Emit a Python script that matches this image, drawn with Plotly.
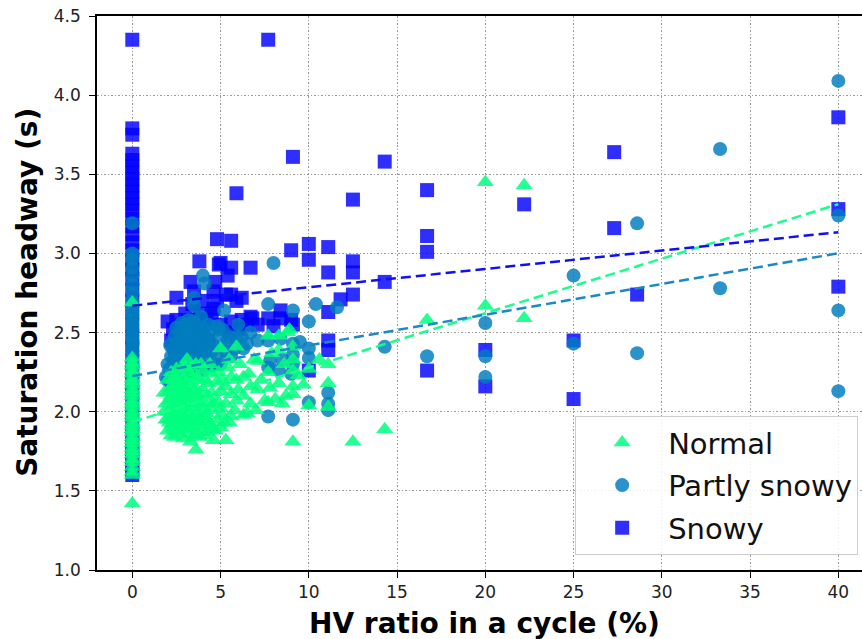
import numpy as np
import plotly.graph_objects as go

categories = ["Normal", "Partly snowy", "Snowy"]
colors = ["rgba(0,255,127,0.85)", "rgba(0,125,190,0.83)", "rgba(0,0,255,0.82)"]
line_colors = ["#1aff8c", "#1a88c9", "#1010f0"]
symbols = ["triangle-up", "circle", "square"]

# Saturation headways (s) in cycles with no heavy vehicles (HV ratio = 0 %)
normal_zero_y = [1.42, 1.60, 1.62, 1.65, 1.68, 1.70, 1.73, 1.75, 1.77, 1.80, 1.82,
                 1.84, 1.87, 1.89, 1.91, 1.93, 1.96, 1.98, 2.00, 2.03, 2.05, 2.07,
                 2.10, 2.12, 2.14, 2.17, 2.19, 2.21, 2.24, 2.26, 2.29, 2.31, 2.34, 2.69]
partly_zero_y = [1.72, 1.76, 1.81, 1.85, 1.90, 1.94, 1.98, 2.03, 2.07, 2.12, 2.16,
                 2.20, 2.24, 2.27, 2.31, 2.35, 2.38, 2.42, 2.45, 2.48, 2.52, 2.55,
                 2.58, 2.61, 2.64, 2.67, 2.70, 2.75, 2.80, 2.86, 2.91, 2.96, 3.00, 3.19]
snowy_zero_y = [1.60, 1.63, 1.67, 1.71, 1.75, 1.80, 1.86, 1.92, 1.98, 2.05, 2.12,
                2.18, 2.25, 2.32, 2.40, 2.47, 2.55, 2.63, 2.70, 2.77, 2.84, 2.90,
                2.96, 3.02, 3.07, 3.12, 3.17, 3.22, 3.27, 3.31, 3.35, 3.39, 3.43,
                3.47, 3.51, 3.55, 3.59, 3.63, 3.75, 3.79, 4.35]

# (HV ratio %, saturation headway s) for cycles with heavy vehicles
normal_points = [
    (1.8, 2.00), (1.8, 2.12), (1.9, 1.95), (1.9, 2.05), (2.0, 1.88), (2.0, 2.00),
    (2.0, 2.12), (2.0, 2.20), (2.05, 1.95), (2.1, 1.93), (2.1, 2.07), (2.15, 2.15),
    (2.2, 1.85), (2.2, 1.98), (2.2, 2.10), (2.2, 2.25), (2.25, 1.92), (2.3, 1.90),
    (2.3, 2.03), (2.3, 2.15), (2.35, 2.20), (2.4, 1.84), (2.4, 1.96), (2.4, 2.08),
    (2.4, 2.22), (2.45, 2.02), (2.5, 1.88), (2.5, 2.01), (2.5, 2.13), (2.5, 2.27),
    (2.55, 1.95), (2.55, 2.20), (2.6, 1.93), (2.6, 2.05), (2.6, 2.18), (2.65, 2.10),
    (2.7, 1.86), (2.7, 1.99), (2.7, 2.11), (2.7, 2.24), (2.75, 1.93), (2.8, 1.91),
    (2.8, 2.04), (2.8, 2.16), (2.85, 2.28), (2.9, 1.83), (2.9, 1.97), (2.9, 2.09),
    (2.9, 2.21), (2.95, 2.15), (3.0, 1.89), (3.0, 2.02), (3.0, 2.14), (3.0, 2.28),
    (3.05, 1.96), (3.1, 1.94), (3.1, 2.06), (3.1, 2.19), (3.1, 2.33), (3.15, 2.10),
    (3.2, 1.86), (3.2, 2.00), (3.2, 2.12), (3.2, 2.25), (3.25, 1.90), (3.3, 1.81),
    (3.3, 1.95), (3.3, 2.08), (3.3, 2.17), (3.35, 2.28), (3.4, 1.90), (3.4, 2.03),
    (3.4, 2.22), (3.45, 1.97), (3.45, 2.12), (3.55, 1.85), (3.6, 1.76), (3.6, 1.93),
    (3.6, 2.05), (3.6, 2.15), (3.6, 2.30), (3.65, 2.22), (3.7, 1.88), (3.7, 2.00),
    (3.7, 2.11), (3.75, 1.94), (3.8, 1.84), (3.8, 1.97), (3.8, 2.09), (3.8, 2.20),
    (3.85, 2.05), (3.9, 2.30), (4.0, 1.91), (4.0, 2.03), (4.0, 2.14), (4.0, 2.26),
    (4.1, 1.85), (4.1, 1.97), (4.1, 2.20), (4.2, 1.87), (4.2, 1.99), (4.2, 2.10),
    (4.3, 1.94), (4.3, 2.06), (4.3, 2.18), (4.4, 1.92), (4.4, 2.30), (4.5, 1.89),
    (4.5, 2.01), (4.5, 2.12), (4.5, 2.24), (4.6, 1.82), (4.6, 2.05), (4.7, 1.88),
    (4.8, 1.95), (4.8, 2.07), (4.8, 2.19), (4.9, 2.25), (5.0, 1.90), (5.0, 2.02),
    (5.0, 2.13), (5.0, 2.40), (5.1, 1.98), (5.1, 2.20), (5.2, 1.93), (5.3, 1.82),
    (5.3, 2.05), (5.3, 2.16), (5.4, 2.28), (5.5, 1.93), (5.5, 2.33), (5.6, 1.97),
    (5.6, 2.11), (5.6, 2.22), (5.8, 2.01), (5.9, 2.07), (5.9, 2.20), (5.9, 2.41),
    (6.0, 2.14), (6.1, 2.30), (6.3, 1.98), (6.3, 2.10), (6.3, 2.22), (6.5, 1.99),
    (6.6, 2.24), (6.7, 2.05), (6.7, 2.16), (6.9, 2.33), (7.0, 2.01), (7.1, 2.32),
    (7.1, 2.14), (7.3, 2.20), (7.5, 2.07), (7.7, 2.06), (7.7, 2.25), (7.7, 2.48),
    (7.8, 2.15), (7.9, 2.37), (8.1, 2.08), (8.3, 2.48), (8.3, 2.39), (8.3, 2.18),
    (8.5, 2.05), (8.6, 2.30), (8.7, 2.10), (8.8, 2.50), (8.9, 2.52), (9.1, 1.81),
    (9.1, 2.11), (9.1, 2.16), (9.1, 2.26), (9.1, 2.33), (9.1, 2.41), (9.4, 2.23),
    (9.7, 2.17), (10.0, 2.04), (10.0, 2.27), (10.6, 2.33), (11.1, 2.03),
    (11.1, 2.18), (11.1, 2.30), (12.5, 1.81), (14.3, 1.89), (16.7, 2.58),
    (20.0, 2.67), (20.0, 3.45), (22.2, 2.59), (22.2, 3.43),
]
partly_points = [
    (1.9, 2.22), (2.0, 2.30), (2.0, 2.20), (2.1, 2.27), (2.15, 2.42), (2.2, 2.35),
    (2.2, 2.18), (2.3, 2.25), (2.3, 2.40), (2.35, 2.33), (2.4, 2.31), (2.4, 2.47),
    (2.45, 2.20), (2.5, 2.22), (2.5, 2.36), (2.5, 2.53), (2.6, 2.28), (2.6, 2.44),
    (2.65, 2.36), (2.7, 2.19), (2.7, 2.33), (2.7, 2.50), (2.75, 2.44), (2.8, 2.26),
    (2.8, 2.40), (2.8, 2.56), (2.85, 2.32), (2.9, 2.31), (2.9, 2.46), (2.95, 2.55),
    (3.0, 2.22), (3.0, 2.37), (3.0, 2.52), (3.05, 2.29), (3.1, 2.29), (3.1, 2.43),
    (3.15, 2.49), (3.2, 2.35), (3.2, 2.58), (3.25, 2.40), (3.3, 2.25), (3.3, 2.52),
    (3.4, 2.32), (3.4, 2.46), (3.45, 2.57), (3.5, 2.67), (3.5, 2.72), (3.55, 2.30),
    (3.6, 2.38), (3.6, 2.55), (3.65, 2.47), (3.7, 2.28), (3.7, 2.44), (3.8, 2.34),
    (3.8, 2.50), (3.85, 2.42), (3.9, 2.60), (4.0, 2.86), (4.0, 2.40), (4.0, 2.26),
    (4.05, 2.52), (4.1, 2.81), (4.15, 2.38), (4.2, 2.47), (4.2, 2.33), (4.3, 2.55),
    (4.35, 2.45), (4.5, 2.38), (4.5, 2.29), (4.5, 2.50), (4.6, 2.42), (4.7, 2.30),
    (4.8, 2.54), (4.8, 2.36), (4.9, 2.52), (5.0, 2.44), (5.0, 2.30), (5.1, 2.52),
    (5.2, 2.64), (5.3, 2.38), (5.4, 2.45), (5.6, 2.47), (5.6, 2.35), (5.8, 2.40),
    (5.9, 2.47), (6.0, 2.55), (6.2, 2.47), (6.3, 2.40), (6.5, 2.43), (6.7, 2.50),
    (7.1, 2.45), (7.7, 2.68), (7.7, 2.45), (7.7, 2.28), (7.7, 1.97), (7.8, 2.32),
    (8.0, 2.94), (8.3, 2.26), (8.4, 2.46), (8.5, 2.33), (9.0, 2.24), (9.1, 2.64),
    (9.1, 2.43), (9.1, 2.36), (9.1, 2.30), (9.1, 1.95), (9.5, 2.44), (10.0, 2.57),
    (10.0, 2.40), (10.0, 2.34), (10.0, 2.06), (10.4, 2.68), (11.1, 2.12),
    (11.1, 2.05), (11.1, 2.01), (11.6, 2.66), (14.3, 2.41), (16.7, 2.35),
    (20.0, 2.56), (20.0, 2.35), (20.0, 2.22), (25.0, 2.86), (25.0, 2.43),
    (28.6, 3.19), (28.6, 2.37), (33.3, 3.66), (33.3, 2.78), (40.0, 4.09),
    (40.0, 3.24), (40.0, 2.64), (40.0, 2.13),
]
snowy_points = [
    (2.0, 2.57), (2.2, 2.45), (2.3, 2.52), (2.4, 2.40), (2.5, 2.72), (2.5, 2.58),
    (2.6, 2.48), (2.7, 2.36), (2.8, 2.55), (2.9, 2.44), (3.0, 2.62), (3.1, 2.50),
    (3.2, 2.40), (3.3, 2.82), (3.3, 2.58), (3.4, 2.68), (3.5, 2.76), (3.5, 2.47),
    (3.6, 2.55), (3.7, 2.38), (3.8, 2.95), (3.8, 2.62), (3.9, 2.50), (4.0, 2.70),
    (4.2, 2.58), (4.3, 2.45), (4.5, 2.62), (4.6, 2.76), (4.6, 2.65), (4.7, 2.82),
    (4.8, 3.09), (4.8, 2.70), (4.9, 2.93), (5.0, 2.94), (5.0, 2.55), (5.3, 2.74),
    (5.4, 2.86), (5.5, 2.50), (5.6, 3.08), (5.6, 2.91), (5.6, 2.74), (5.6, 2.57),
    (5.9, 3.38), (5.9, 2.70), (6.0, 2.52), (6.2, 2.72), (6.2, 2.58), (6.5, 2.55),
    (6.7, 2.91), (6.7, 2.60), (6.8, 2.59), (7.1, 2.55), (7.7, 4.35), (7.7, 2.59),
    (8.0, 2.54), (8.4, 2.64), (8.4, 2.59), (9.0, 3.02), (9.0, 2.58), (9.1, 3.61),
    (9.1, 2.55), (10.0, 3.06), (10.0, 2.96), (10.0, 2.26), (11.1, 3.04),
    (11.1, 2.88), (11.1, 2.63), (11.1, 2.45), (11.1, 2.39), (11.8, 2.71),
    (12.5, 3.34), (12.5, 2.95), (12.5, 2.88), (12.5, 2.74), (14.3, 3.58),
    (14.3, 2.82), (16.7, 3.40), (16.7, 3.11), (16.7, 3.01), (16.7, 2.26),
    (20.0, 2.39), (20.0, 2.16), (22.2, 3.31), (25.0, 2.45), (25.0, 2.08),
    (27.3, 3.64), (27.3, 3.16), (28.6, 2.74), (40.0, 3.86), (40.0, 3.28),
    (40.0, 2.79),
]

# Linear fits of headway against HV ratio (intercept s, slope s per %)
trend_intercept = [1.935, 2.225, 2.670]
trend_slope = [0.0344, 0.0194, 0.0116]
trend_x = np.array([0.0, 40.0])

x_ticks = [0, 5, 10, 15, 20, 25, 30, 35, 40]
y_ticks = [1.0, 1.5, 2.0, 2.5, 3.0, 3.5, 4.0, 4.5]

zero_y = [normal_zero_y, partly_zero_y, snowy_zero_y]
points = [normal_points, partly_points, snowy_points]
sizes = [15, 14, 14]

fig = go.Figure()

# draw snowy first so that normal cycles sit on top
for i in [2, 1, 0]:
    px, py = zip(*points[i])
    xs = [0.0] * len(zero_y[i]) + list(px)
    ys = list(zero_y[i]) + list(py)
    fig.add_trace(go.Scatter(
        x=xs, y=ys, mode="markers", name=categories[i],
        legendrank=i + 1, legendgroup=categories[i],
        marker=dict(symbol=symbols[i], size=sizes[i], color=colors[i],
                    line=dict(width=0)),
    ))

for i in range(3):
    fig.add_trace(go.Scatter(
        x=trend_x, y=trend_intercept[i] + trend_slope[i] * trend_x,
        mode="lines", showlegend=False, hoverinfo="skip",
        line=dict(color=line_colors[i], width=2.5, dash="10px,5px"),
    ))

font_family = "DejaVu Sans"
axis_common = dict(
    showline=True, linecolor="black", linewidth=1.5,
    ticks="outside", ticklen=6, tickwidth=1.2, tickcolor="black",
    tickfont=dict(family=font_family, size=17, color="#222222"),
    showgrid=True, gridcolor="#999999", gridwidth=1, griddash="1.5px,2px",
    zeroline=False,
)

fig.update_xaxes(range=[-2, 41.34], tickvals=x_ticks, mirror=True,
                 ticklabelstandoff=0, **axis_common)
fig.update_yaxes(range=[1.0, 4.5], tickvals=y_ticks, tickformat=".1f",
                 ticklabelstandoff=5, **axis_common)

fig.add_annotation(
    text="<b>HV ratio in a cycle (%)</b>", xref="paper", yref="paper",
    x=0.507, y=-0.096, xanchor="center", yanchor="middle", showarrow=False,
    font=dict(family=font_family, size=28, color="black"),
)
fig.add_annotation(
    text="<b>Saturation headway (s)</b>", xref="paper", yref="paper",
    x=-0.091, y=0.501, xanchor="center", yanchor="middle", showarrow=False,
    textangle=-90, font=dict(family=font_family, size=28, color="black"),
)

fig.update_layout(
    width=862, height=639,
    margin=dict(l=97, r=0, t=16, b=69),
    paper_bgcolor="white", plot_bgcolor="white",
    showlegend=True,
    legend=dict(
        x=0.995, y=0.027, xanchor="right", yanchor="bottom",
        bgcolor="rgba(255,255,255,0.85)", bordercolor="#cccccc", borderwidth=1,
        font=dict(family=font_family, size=29, color="#111111"),
        tracegroupgap=2, itemwidth=82,
    ),
)

fig.write_html("out.html")
